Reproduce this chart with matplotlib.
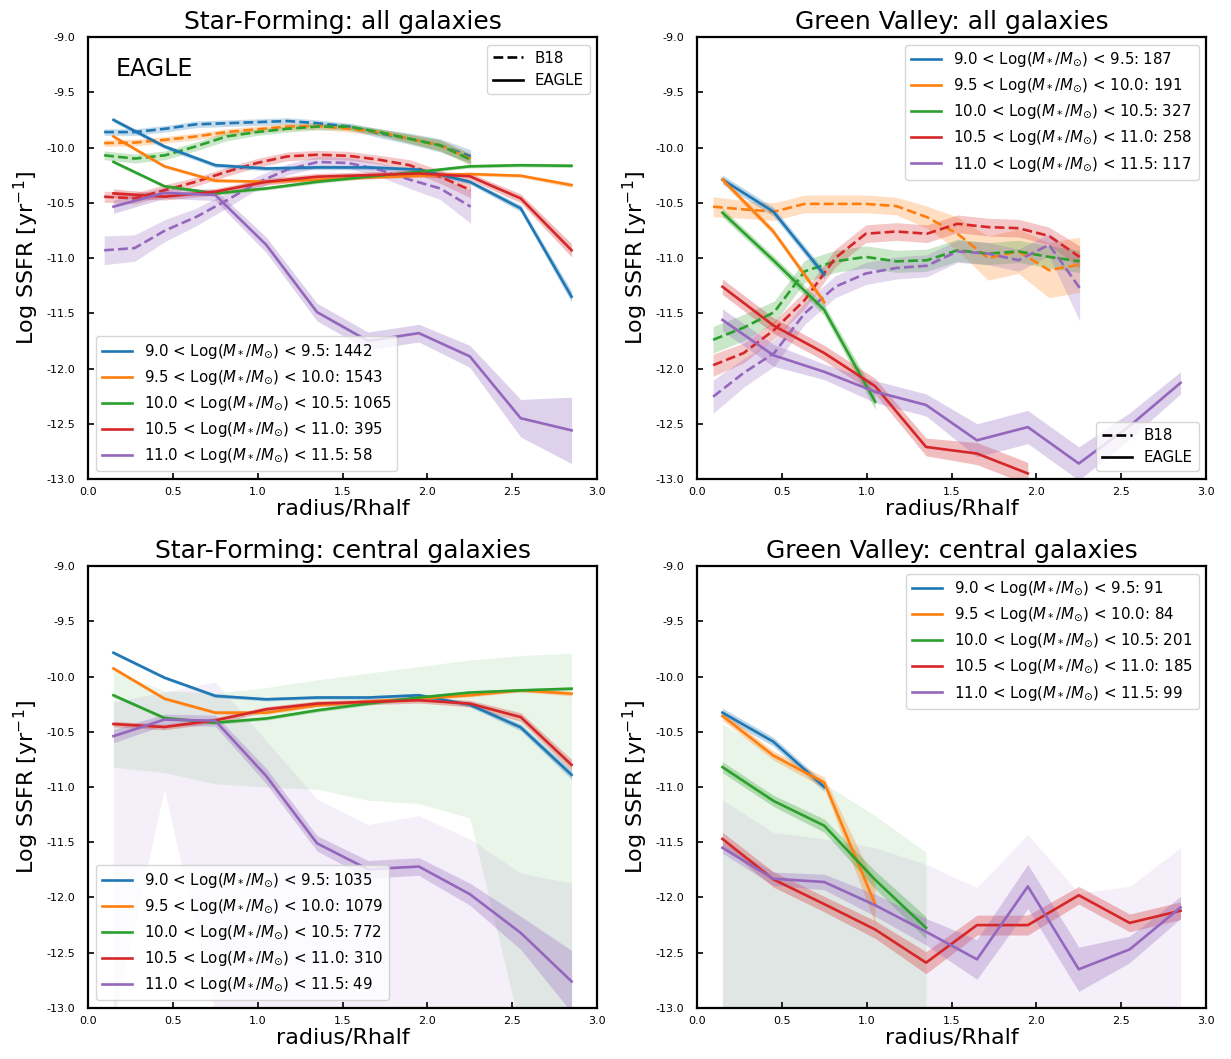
import matplotlib
matplotlib.use('Agg')
import matplotlib.pyplot as plt
from matplotlib.lines import Line2D
import numpy as np

plt.rcParams['axes.unicode_minus'] = False
plt.rcParams['font.family'] = ['DejaVu Sans']

# ---------------- data ----------------
x_eagle = [0.15, 0.45, 0.75, 1.05, 1.35, 1.65, 1.95, 2.25, 2.55, 2.85]
x_b18 = [0.095, 0.275, 0.455, 0.635, 0.815, 0.995, 1.175, 1.355, 1.535, 1.715, 1.895, 2.075, 2.255]

mass_bins = ['9.0 < Log($M_*/M_{\\odot}$) < 9.5',
             '9.5 < Log($M_*/M_{\\odot}$) < 10.0',
             '10.0 < Log($M_*/M_{\\odot}$) < 10.5',
             '10.5 < Log($M_*/M_{\\odot}$) < 11.0',
             '11.0 < Log($M_*/M_{\\odot}$) < 11.5']
colors = ['#1f77b4', '#ff7f0e', '#2ca02c', '#d62728', '#9467bd']

titles = ['Star-Forming: all galaxies', 'Green Valley: all galaxies',
          'Star-Forming: central galaxies', 'Green Valley: central galaxies']

counts_sf_all = [1442, 1543, 1065, 395, 58]
counts_gv_all = [187, 191, 327, 258, 117]
counts_sf_cen = [1035, 1079, 772, 310, 49]
counts_gv_cen = [91, 84, 201, 185, 99]

# --- Star-Forming, all galaxies: EAGLE (solid) ---
sf_all_eagle = [
    [-9.75, -9.99, -10.16, -10.19, -10.18, -10.18, -10.20, -10.31, -10.55, -11.35],
    [-9.90, -10.17, -10.30, -10.31, -10.29, -10.27, -10.255, -10.24, -10.255, -10.34],
    [-10.13, -10.35, -10.415, -10.37, -10.31, -10.264, -10.22, -10.17, -10.16, -10.165],
    [-10.415, -10.445, -10.40, -10.31, -10.264, -10.25, -10.235, -10.26, -10.46, -10.93],
    [-10.535, -10.41, -10.43, -10.88, -11.49, -11.75, -11.68, -11.89, -12.45, -12.56],
]
sf_all_eagle_err = [
    [0.02, 0.02, 0.02, 0.02, 0.02, 0.02, 0.02, 0.02, 0.03, 0.05],
    [0.015, 0.015, 0.015, 0.015, 0.015, 0.015, 0.015, 0.015, 0.015, 0.02],
    [0.015, 0.015, 0.015, 0.015, 0.015, 0.015, 0.015, 0.015, 0.015, 0.015],
    [0.04, 0.03, 0.03, 0.03, 0.03, 0.03, 0.03, 0.03, 0.04, 0.06],
    [0.06, 0.05, 0.05, 0.07, 0.08, 0.08, 0.08, 0.1, 0.17, 0.3],
]
# --- Star-Forming, all galaxies: B18 (dashed) ---
sf_all_b18 = [
    [-9.86, -9.86, -9.83, -9.79, -9.78, -9.77, -9.76, -9.78, -9.81, -9.87, -9.92, -9.98, -10.08],
    [-9.96, -9.955, -9.93, -9.90, -9.86, -9.835, -9.81, -9.805, -9.83, -9.86, -9.92, -9.98, -10.10],
    [-10.07, -10.10, -10.07, -9.99, -9.90, -9.86, -9.83, -9.81, -9.81, -9.86, -9.92, -9.98, -10.11],
    [-10.445, -10.46, -10.385, -10.31, -10.22, -10.14, -10.08, -10.065, -10.075, -10.11, -10.16, -10.264, -10.385],
    [-10.93, -10.91, -10.75, -10.63, -10.48, -10.32, -10.20, -10.13, -10.14, -10.20, -10.29, -10.37, -10.535],
]
sf_all_b18_err = [
    [0.03, 0.03, 0.03, 0.03, 0.03, 0.03, 0.03, 0.03, 0.03, 0.04, 0.05, 0.06, 0.06],
    [0.03, 0.03, 0.03, 0.03, 0.03, 0.03, 0.03, 0.03, 0.03, 0.03, 0.04, 0.05, 0.05],
    [0.04, 0.04, 0.04, 0.04, 0.04, 0.03, 0.03, 0.03, 0.03, 0.03, 0.04, 0.05, 0.05],
    [0.05, 0.05, 0.05, 0.04, 0.04, 0.04, 0.04, 0.04, 0.04, 0.04, 0.05, 0.06, 0.07],
    [0.13, 0.12, 0.1, 0.08, 0.07, 0.06, 0.05, 0.05, 0.05, 0.06, 0.08, 0.1, 0.15],
]

# --- Green Valley, all galaxies: EAGLE (solid) ---
gv_all_eagle = [
    [-10.29, -10.58, -11.15],
    [-10.29, -10.76, -11.40],
    [-10.59, -11.02, -11.47, -12.30],
    [-11.26, -11.61, -11.86, -12.16, -12.71, -12.77, -12.95],
    [-11.56, -11.88, -12.03, -12.21, -12.33, -12.65, -12.53, -12.86, -12.52, -12.13],
]
gv_all_eagle_err = [
    [0.04, 0.04, 0.04],
    [0.03, 0.03, 0.03],
    [0.04, 0.04, 0.05, 0.07],
    [0.07, 0.07, 0.07, 0.07, 0.08, 0.1, 0.1],
    [0.1, 0.1, 0.07, 0.1, 0.1, 0.15, 0.15, 0.15, 0.12, 0.1],
]
# --- Green Valley, all galaxies: B18 (dashed), orange/green/red/purple ---
gv_all_b18 = [
    None,
    [-10.535, -10.56, -10.58, -10.51, -10.51, -10.51, -10.53, -10.63, -10.78, -11.0, -10.94, -11.11, -11.06],
    [-11.74, -11.63, -11.49, -11.12, -11.03, -10.99, -11.03, -11.02, -10.93, -10.96, -10.94, -10.99, -11.03],
    [-11.97, -11.86, -11.65, -11.38, -11.0, -10.78, -10.76, -10.78, -10.69, -10.72, -10.73, -10.80, -10.99],
    [-12.255, -12.04, -11.86, -11.50, -11.26, -11.14, -11.09, -11.07, -10.94, -10.96, -11.02, -10.88, -11.27],
]
gv_all_b18_err = [
    None,
    [0.09, 0.08, 0.08, 0.08, 0.08, 0.08, 0.08, 0.1, 0.15, 0.2, 0.2, 0.25, 0.25],
    [0.12, 0.12, 0.1, 0.1, 0.1, 0.1, 0.1, 0.1, 0.1, 0.1, 0.1, 0.1, 0.1],
    [0.1, 0.09, 0.08, 0.08, 0.08, 0.08, 0.08, 0.08, 0.08, 0.08, 0.08, 0.08, 0.1],
    [0.15, 0.13, 0.12, 0.1, 0.1, 0.1, 0.1, 0.1, 0.1, 0.1, 0.1, 0.1, 0.3],
]

# --- Star-Forming, central galaxies: EAGLE (solid) ---
sf_cen_eagle = [
    [-9.785, -10.01, -10.175, -10.206, -10.19, -10.19, -10.17, -10.255, -10.46, -10.89],
    [-9.927, -10.20, -10.327, -10.327, -10.26, -10.225, -10.20, -10.17, -10.125, -10.155],
    [-10.17, -10.375, -10.418, -10.38, -10.306, -10.245, -10.19, -10.145, -10.125, -10.11],
    [-10.43, -10.457, -10.397, -10.297, -10.245, -10.23, -10.215, -10.245, -10.367, -10.80],
    [-10.54, -10.39, -10.40, -10.90, -11.51, -11.745, -11.72, -11.97, -12.32, -12.76],
]
sf_cen_eagle_err = [
    [0.015, 0.015, 0.015, 0.015, 0.015, 0.015, 0.02, 0.02, 0.03, 0.04],
    [0.015, 0.015, 0.015, 0.015, 0.015, 0.015, 0.015, 0.015, 0.015, 0.02],
    [0.015, 0.015, 0.015, 0.015, 0.015, 0.015, 0.015, 0.015, 0.015, 0.015],
    [0.025, 0.025, 0.025, 0.025, 0.025, 0.025, 0.025, 0.03, 0.04, 0.05],
    [0.06, 0.05, 0.05, 0.07, 0.07, 0.08, 0.08, 0.1, 0.15, 0.28],
]
# wide shaded spreads (green and purple bins)
sf_cen_green_lo = [-10.82, -10.87, -10.97, -11.0, -11.02, -11.12, -11.15, -11.28, -13.2, -13.5]
sf_cen_green_hi = [-9.95, -10.13, -10.15, -10.10, -10.03, -9.97, -9.91, -9.85, -9.81, -9.79]
sf_cen_purple_lo = [-13.1, -11.02, -13.05, -13.5, -13.5, -13.5, -13.5, -13.5, -13.5, -13.5]
sf_cen_purple_hi = [-10.23, -10.14, -10.05, -10.58, -11.11, -11.34, -11.26, -11.47, -11.78, -11.87]

# --- Green Valley, central galaxies: EAGLE (solid) ---
gv_cen_eagle = [
    [-10.327, -10.59, -11.0],
    [-10.357, -10.715, -10.96, -12.06],
    [-10.82, -11.125, -11.35, -11.84, -12.275],
    [-11.47, -11.836, -12.06, -12.29, -12.59, -12.25, -12.25, -11.98, -12.23, -12.12],
    [-11.55, -11.83, -11.86, -12.07, -12.31, -12.56, -11.90, -12.65, -12.47, -12.09],
]
gv_cen_eagle_err = [
    [0.04, 0.04, 0.04],
    [0.04, 0.04, 0.05, 0.18],
    [0.05, 0.05, 0.06, 0.08, 0.1],
    [0.06, 0.07, 0.07, 0.08, 0.1, 0.09, 0.09, 0.08, 0.08, 0.08],
    [0.05, 0.06, 0.07, 0.1, 0.12, 0.18, 0.2, 0.2, 0.12, 0.1],
]
gv_cen_green_lo = [-13.5, -13.5, -13.5, -13.5, -13.5]
gv_cen_green_hi = [-10.43, -10.70, -10.97, -11.26, -11.59]
gv_cen_purple_lo = [-13.5, -13.5, -13.5, -13.5, -13.5, -13.5, -13.5, -13.5, -13.5, -13.5]
gv_cen_purple_hi = [-11.12, -11.41, -11.47, -11.55, -11.70, -11.91, -11.43, -11.96, -11.90, -11.55]

# ---------------- plotting ----------------
fig = plt.figure(figsize=(12.31, 10.59), dpi=100)
lefts = [0.0715, 0.5662]
bottoms = [0.5477, 0.0482]
w = 0.4135
h = 0.4173
axes = [fig.add_axes([lefts[0], bottoms[0], w, h]),
        fig.add_axes([lefts[1], bottoms[0], w, h]),
        fig.add_axes([lefts[0], bottoms[1], w, h]),
        fig.add_axes([lefts[1], bottoms[1], w, h])]

LW = 1.9
LEGFS = 10.8


def draw_solid(ax, ys, errs, counts):
    handles = []
    for i, (y, e) in enumerate(zip(ys, errs)):
        x = np.array(x_eagle[:len(y)])
        y = np.array(y)
        e = np.array(e)
        ax.fill_between(x, y - e, y + e, color=colors[i], alpha=0.3, lw=0)
        ln, = ax.plot(x, y, color=colors[i], lw=LW,
                      label='%s: %d' % (mass_bins[i], counts[i]))
        handles.append(ln)
    return handles


def draw_dashed(ax, ys, errs):
    for i, (y, e) in enumerate(zip(ys, errs)):
        if y is None:
            continue
        x = np.array(x_b18[:len(y)])
        y = np.array(y)
        e = np.array(e)
        ax.fill_between(x, y - e, y + e, color=colors[i], alpha=0.25, lw=0)
        ax.plot(x, y, color=colors[i], lw=LW, ls='--')


def style(ax, title):
    ax.set_xlim(0, 3.0)
    ax.set_ylim(-13.0, -9.0)
    ax.set_xticks(np.arange(0, 3.01, 0.5))
    ax.set_yticks(np.arange(-13.0, -8.99, 0.5))
    ax.xaxis.set_major_formatter(matplotlib.ticker.FormatStrFormatter('%.1f'))
    ax.yaxis.set_major_formatter(matplotlib.ticker.FormatStrFormatter('%.1f'))
    ax.tick_params(direction='in', labelsize=8, width=1.2, length=4)
    ax.tick_params(axis='y', pad=9)
    ax.tick_params(axis='x', pad=6)
    for s in ax.spines.values():
        s.set_linewidth(1.6)
    ax.set_title(title, fontsize=18)
    ax.set_xlabel('radius/Rhalf', fontsize=16, labelpad=1)
    ax.set_ylabel('Log SSFR [yr$^{-1}$]', fontsize=16, labelpad=4)


def style_legend():
    return [Line2D([], [], color='k', ls='--', lw=LW), Line2D([], [], color='k', ls='-', lw=LW)]


# Panel 1
ax = axes[0]
draw_dashed(ax, sf_all_b18, sf_all_b18_err)
h1 = draw_solid(ax, sf_all_eagle, sf_all_eagle_err, counts_sf_all)
style(ax, titles[0])
leg1 = ax.legend(handles=h1, loc='lower left', fontsize=LEGFS)
ax.add_artist(leg1)
ax.legend(style_legend(), ['B18', 'EAGLE'], loc='upper right', fontsize=LEGFS)
ax.text(0.055, 0.927, 'EAGLE', transform=ax.transAxes, fontsize=17, va='center')

# Panel 2
ax = axes[1]
draw_dashed(ax, gv_all_b18, gv_all_b18_err)
h2 = draw_solid(ax, gv_all_eagle, gv_all_eagle_err, counts_gv_all)
style(ax, titles[1])
leg2 = ax.legend(handles=h2, loc='upper right', fontsize=LEGFS)
ax.add_artist(leg2)
ax.legend(style_legend(), ['B18', 'EAGLE'], loc='lower right', fontsize=LEGFS)

# Panel 3
ax = axes[2]
ax.fill_between(x_eagle, sf_cen_green_lo, sf_cen_green_hi, color=colors[2], alpha=0.1, lw=0)
ax.fill_between(x_eagle, sf_cen_purple_lo, sf_cen_purple_hi, color=colors[4], alpha=0.1, lw=0)
h3 = draw_solid(ax, sf_cen_eagle, sf_cen_eagle_err, counts_sf_cen)
style(ax, titles[2])
ax.legend(handles=h3, loc='lower left', fontsize=LEGFS)

# Panel 4
ax = axes[3]
ax.fill_between(x_eagle[:len(gv_cen_green_hi)], gv_cen_green_lo, gv_cen_green_hi,
                color=colors[2], alpha=0.1, lw=0)
ax.fill_between(x_eagle, gv_cen_purple_lo, gv_cen_purple_hi, color=colors[4], alpha=0.1, lw=0)
h4 = draw_solid(ax, gv_cen_eagle, gv_cen_eagle_err, counts_gv_cen)
style(ax, titles[3])
ax.legend(handles=h4, loc='upper right', fontsize=LEGFS)

fig.savefig('out.png', dpi=100)
